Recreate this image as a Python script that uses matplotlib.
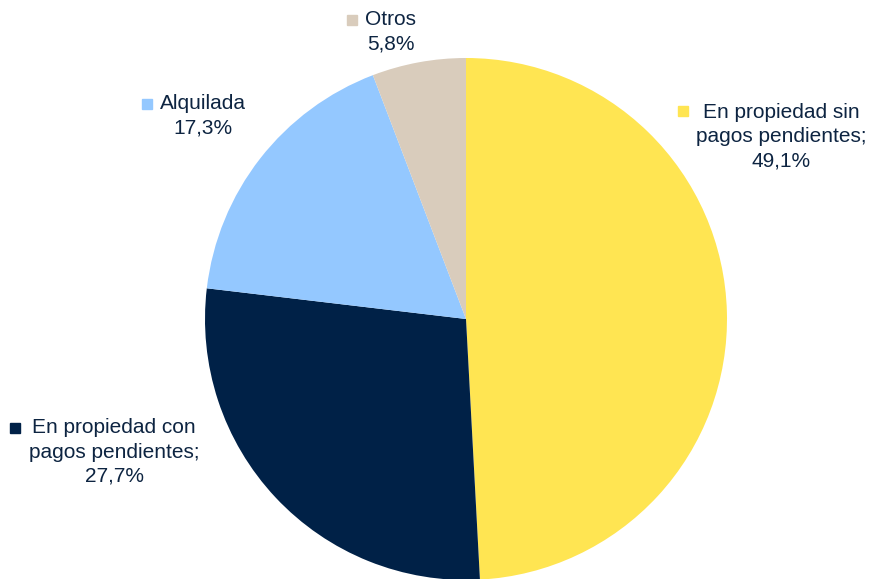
import matplotlib.pyplot as plt

plt.rcParams['font.family'] = ['Liberation Sans', 'DejaVu Sans']

# Régimen de tenencia de la vivienda (%)
categorias = ['En propiedad sin\npagos pendientes;', 'En propiedad con\npagos pendientes;', 'Alquilada', 'Otros']
valores = [49.1, 27.7, 17.3, 5.8]
colores = ['#FFE552', '#002147', '#94C8FF', '#D9CCBC']

# centro de cada etiqueta y posición del cuadradito, en píxeles desde arriba-izquierda
pos_etiquetas = [(781, 137), (114, 452), (203, 116), (391, 32)]
pos_marcas = [(683, 111), (15, 428), (147, 104), (352, 20)]

W, H = 882, 579
fig = plt.figure(figsize=(W / 100, H / 100), dpi=100)

cx, cy, r = 466, 319, 261
ax = fig.add_axes([(cx - r) / W, (H - cy - r) / H, 2 * r / W, 2 * r / H])
ax.pie(valores, colors=colores, startangle=90, counterclock=False,
       radius=1, wedgeprops=dict(linewidth=0), frame=False)
ax.set_xlim(-1, 1)
ax.set_ylim(-1, 1)
ax.set_aspect('equal')
ax.axis('off')
for p in ax.patches:
    p.set_clip_on(False)

color_texto = '#0D2441'
for cat, val, col, (tx, ty), (mx, my) in zip(categorias, valores, colores, pos_etiquetas, pos_marcas):
    texto = f"{cat}\n{val:.1f}%".replace('.', ',')
    fig.text(tx / W, 1 - ty / H, texto, ha='center', va='center',
             fontsize=15, color=color_texto, linespacing=1.34)
    fig.patches.append(plt.Rectangle(((mx - 5) / W, 1 - (my + 5) / H), 10 / W, 10 / H,
                                     transform=fig.transFigure, color=col, figure=fig))

fig.savefig('out.png', dpi=100)
